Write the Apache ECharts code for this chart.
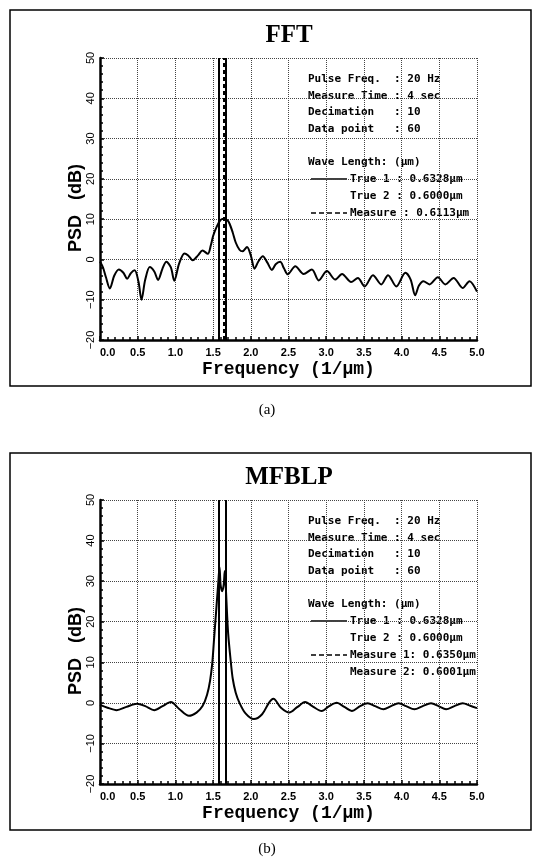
<!DOCTYPE html>
<html>
<head>
<meta charset="utf-8">
<script src="https://cdn.jsdelivr.net/npm/echarts@6/dist/echarts.min.js"></script>
<style>
  html, body { margin: 0; padding: 0; background: #fff; }
  #chart { width: 534px; height: 861px; }
</style>
</head>
<body>
<div id="chart"></div>
<script>
// (a) FFT spectrum
const fftFreq = [0.00, 0.04, 0.08, 0.13, 0.19, 0.25, 0.31, 0.36, 0.41, 0.46, 0.51, 0.55, 0.60, 0.66, 0.72, 0.77,
  0.83, 0.88, 0.94, 0.985, 1.05, 1.12, 1.17, 1.23, 1.30, 1.36, 1.43, 1.47, 1.50, 1.55, 1.60, 1.64, 1.69, 1.72,
  1.76, 1.80, 1.85, 1.89, 1.95, 2.00, 2.05, 2.10, 2.16, 2.22, 2.28, 2.33, 2.39, 2.44, 2.49, 2.59, 2.70, 2.81,
  2.90, 3.01, 3.12, 3.21, 3.33, 3.42, 3.51, 3.62, 3.73, 3.82, 3.93, 4.05, 4.12, 4.18, 4.23, 4.29, 4.37, 4.48,
  4.58, 4.69, 4.81, 4.90, 5.00];
const fftPsd = [-0.5, -2.0, -4.5, -7.2, -4.0, -2.5, -3.3, -4.8, -3.4, -2.7, -5.5, -10.0, -5.0, -1.9, -3.0, -5.1,
  -2.2, -0.6, -2.0, -5.3, -1.0, 1.5, 1.0, -0.2, 1.0, 2.2, 1.4, 3.5, 5.8, 8.2, 9.8, 10.1, 9.7, 8.8,
  6.7, 4.2, 2.4, 2.0, 3.1, 1.0, -2.3, -0.5, 0.8, -0.8, -2.6, -1.2, -0.6, -2.2, -3.7, -1.7, -3.6, -2.5,
  -5.2, -2.9, -5.0, -3.6, -5.6, -4.6, -6.7, -3.9, -6.2, -3.9, -6.7, -3.3, -5.0, -8.9, -6.5, -5.4, -6.2, -4.4,
  -6.2, -4.6, -7.1, -5.4, -8.0];

// (b) MFBLP spectrum
const mfblpFreq = [0.00, 0.10, 0.22, 0.35, 0.49, 0.60, 0.72, 0.83, 0.94, 1.05, 1.18, 1.28, 1.36, 1.42, 1.46, 1.49,
  1.51, 1.53, 1.55, 1.57, 1.585, 1.60, 1.62, 1.64, 1.655, 1.67, 1.685, 1.70, 1.73, 1.76, 1.80, 1.85, 1.93,
  2.04, 2.15, 2.24, 2.30, 2.40, 2.51, 2.62, 2.72, 2.83, 2.94, 3.04, 3.14, 3.24, 3.34, 3.45, 3.55, 3.65,
  3.76, 3.86, 3.96, 4.06, 4.17, 4.28, 4.39, 4.49, 4.59, 4.70, 4.81, 4.91, 5.00];
const mfblpPsd = [-0.5, -1.2, -1.8, -1.0, -0.2, -0.8, -1.8, -0.8, 0.2, -1.5, -3.2, -2.4, -0.8, 2.0, 5.5, 10,
  15, 20, 25, 30, 33.5, 29, 27.5, 29, 32.5, 28, 22, 17, 11, 6, 2.5, 0, -2.6,
  -4.0, -2.8, 0, 1.0, -1.2, -2.4, -1.0, 0.2, -1.0, -2.0, -0.8, 0, -1.0, -2.0, -0.8, -0.1, -0.8,
  -1.6, -0.8, -0.1, -0.8, -1.6, -0.8, -0.1, -0.8, -1.6, -0.8, -0.1, -0.7, -1.3];

// wave lengths (um)
const trueWave = [0.6328, 0.6000];
const fftMeasure = [0.6113];
const mfblpMeasure = [0.6350, 0.6001];

const titles = ["FFT", "MFBLP"];
const captions = ["(a)", "(b)"];
const infoLines = ["Pulse Freq.  : 20 Hz", "Measure Time : 4 sec", "Decimation   : 10", "Data point   : 60"];
const fftLegend = ["True 1 : 0.6328\u03bcm", "True 2 : 0.6000\u03bcm", "Measure : 0.6113\u03bcm"];
const mfblpLegend = ["True 1 : 0.6328\u03bcm", "True 2 : 0.6000\u03bcm", "Measure 1: 0.6350\u03bcm", "Measure 2: 0.6001\u03bcm"];

const chart = echarts.init(document.getElementById("chart"));

const grids = [
  { left: 100, top: 58, width: 377, height: 282 },
  { left: 100, top: 500, width: 377, height: 284 }
];
const boxes = [
  { x: 10, y: 10, width: 521, height: 376 },
  { x: 10, y: 453, width: 521, height: 377 }
];
const captionY = [410, 849];

const gridLine = { show: true, lineStyle: { color: "#444", type: "dotted", width: 1 } };

function xAxisFor(i) {
  return {
    type: "value", gridIndex: i, min: 0, max: 5, interval: 0.5,
    name: "Frequency (1/\u03bcm)", nameLocation: "middle", nameGap: 20,
    nameTextStyle: { fontFamily: "Liberation Mono", fontWeight: "bold", fontSize: 18, color: "#000" },
    axisLine: { onZero: false, lineStyle: { color: "#000", width: 2.5 } },
    axisTick: { inside: true, length: 4, lineStyle: { color: "#000", width: 1.5 } },
    minorTick: { show: true, splitNumber: 5, length: 3, lineStyle: { color: "#000", width: 1.5 } },
    axisLabel: {
      margin: 7, color: "#000", fontFamily: "Liberation Sans", fontWeight: "bold", fontSize: 11,
      formatter: (v) => v.toFixed(1), alignMinLabel: "left"
    },
    splitLine: gridLine
  };
}

function yAxisFor(i) {
  return {
    type: "value", gridIndex: i, min: -20, max: 50, interval: 10,
    axisLine: { onZero: false, lineStyle: { color: "#000", width: 2.5 } },
    axisTick: { inside: true, length: 4, lineStyle: { color: "#000", width: 1.5 } },
    minorTick: { show: true, splitNumber: 5, length: 3, lineStyle: { color: "#000", width: 1.5 } },
    axisLabel: {
      rotate: 90, margin: 4, color: "#000", fontFamily: "Liberation Sans", fontSize: 11,
      formatter: (v) => (v < 0 ? "\u2212" + (-v) : String(v))
    },
    splitLine: gridLine
  };
}

function waveLines(waves, dashed) {
  return waves.map((w) => ({
    xAxis: 1 / w,
    lineStyle: { color: "#000", width: 2, type: dashed ? [4, 3] : "solid" }
  }));
}

function spectrum(i, freq, psd, measure) {
  return {
    type: "line", xAxisIndex: i, yAxisIndex: i,
    data: freq.map((f, k) => [f, psd[k]]),
    symbol: "none", smooth: 0.3, clip: true,
    lineStyle: { color: "#000", width: 2 },
    markLine: {
      silent: true, symbol: "none", label: { show: false }, animation: false,
      data: waveLines(trueWave, false).concat(waveLines(measure, true))
    }
  };
}

// text and frame for one panel
function panelGraphics(i, legendRows) {
  const g = grids[i];
  const b = boxes[i];
  const out = [];
  out.push({
    type: "rect", shape: b, z: 0,
    style: { fill: "none", stroke: "#000", lineWidth: 1.5 }
  });
  out.push({
    type: "text", x: 289, y: g.top - 22,
    style: { text: titles[i], font: 'bold 25px "Liberation Serif"', fill: "#000", textAlign: "center", textVerticalAlign: "middle" }
  });
  out.push({
    type: "text", x: 76, y: g.top + g.height / 2 + 9, rotation: Math.PI / 2,
    style: { text: "PSD   (dB)", font: 'bold 18px "Liberation Sans"', fill: "#000", textAlign: "center", textVerticalAlign: "middle" }
  });
  out.push({
    type: "text", x: 267, y: captionY[i],
    style: { text: captions[i], font: '15px "Liberation Serif"', fill: "#000", textAlign: "center", textVerticalAlign: "middle" }
  });
  const font = 'bold 11px "DejaVu Sans Mono"';
  infoLines.forEach((t, k) => {
    out.push({
      type: "text", x: 308, y: g.top + 21 + k * 16.7,
      style: { text: t, font: font, fill: "#000", textAlign: "left", textVerticalAlign: "middle" }
    });
  });
  out.push({
    type: "text", x: 308, y: g.top + 104,
    style: { text: "Wave Length: (\u03bcm)", font: font, fill: "#000", textAlign: "left", textVerticalAlign: "middle" }
  });
  legendRows.forEach((t, k) => {
    const y = g.top + 121 + k * 17;
    out.push({
      type: "text", x: 350, y: y,
      style: { text: t, font: font, fill: "#000", textAlign: "left", textVerticalAlign: "middle" }
    });
  });
  // line samples for true (solid) and measure (dashed)
  out.push({
    type: "line", shape: { x1: 311, y1: g.top + 121, x2: 347, y2: g.top + 121 },
    style: { stroke: "#000", lineWidth: 1.5 }
  });
  out.push({
    type: "line", shape: { x1: 311, y1: g.top + 155, x2: 347, y2: g.top + 155 },
    style: { stroke: "#000", lineWidth: 1.5, lineDash: [5, 3] }
  });
  return out;
}

const option = {
  animation: false,
  backgroundColor: "#fff",
  grid: grids,
  xAxis: [xAxisFor(0), xAxisFor(1)],
  yAxis: [yAxisFor(0), yAxisFor(1)],
  series: [
    spectrum(0, fftFreq, fftPsd, fftMeasure),
    spectrum(1, mfblpFreq, mfblpPsd, mfblpMeasure)
  ],
  graphic: panelGraphics(0, fftLegend).concat(panelGraphics(1, mfblpLegend))
};

chart.setOption(option);
</script>
</body>
</html>
